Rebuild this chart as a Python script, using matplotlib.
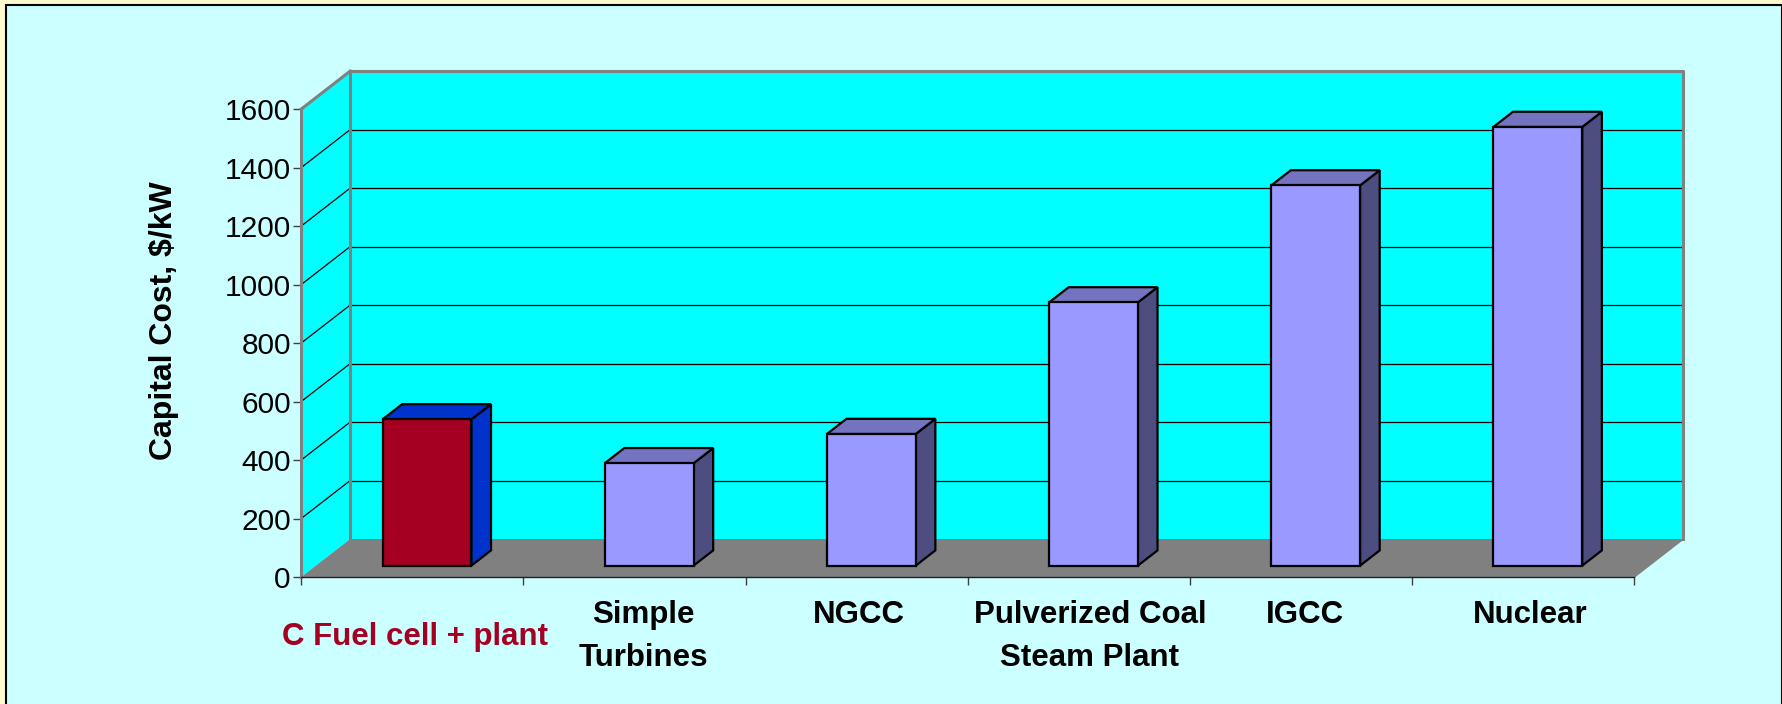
import matplotlib
matplotlib.use('Agg')
import matplotlib.pyplot as plt
from matplotlib.patches import Polygon, Rectangle
from matplotlib.lines import Line2D
import numpy as np

# ---------------- data ----------------
categories = ['C Fuel cell + plant', 'Simple\nTurbines', 'NGCC',
              'Pulverized Coal\nSteam Plant', 'IGCC', 'Nuclear']
capital_cost = [500, 350, 450, 900, 1300, 1500]
y_ticks = [0, 200, 400, 600, 800, 1000, 1200, 1400, 1600]
y_label = 'Capital Cost, $/kW'

# ---------------- style ----------------
front_colors = ['#A50021', '#9999FF', '#9999FF', '#9999FF', '#9999FF', '#9999FF']
side_colors = ['#0033CC', '#4D4D80', '#4D4D80', '#4D4D80', '#4D4D80', '#4D4D80']
top_colors = ['#0033CC', '#7373BF', '#7373BF', '#7373BF', '#7373BF', '#7373BF']
label_colors = ['#A50021', 'black', 'black', 'black', 'black', 'black']
label_dx = [0.01, 0.04, 0.01, 0.05, 0.02, 0.03]
label_y = [-155, -77, -77, -77, -77, -77]

plt.rcParams['font.family'] = ['Liberation Sans', 'DejaVu Sans']

W, H = 1783, 704
fig = plt.figure(figsize=(W / 100, H / 100), dpi=100)
fig.patch.set_facecolor('#FFFACD')

# inner slide background
fig.add_artist(Rectangle((6 / W, -0.02), (1782.5 - 6) / W, 1.02 - 5 / H,
                         transform=fig.transFigure, facecolor='#CCFFFF',
                         edgecolor='black', linewidth=1.5, zorder=0))

# front plane of the 3D box
ax_left, ax_right, ax_top, ax_bot = 301.2, 1634.2, 109.1, 577.0
ax = fig.add_axes([ax_left / W, (H - ax_bot) / H,
                   (ax_right - ax_left) / W, (ax_bot - ax_top) / H])
ymax = y_ticks[-1]
ncat = len(categories)
ax.set_xlim(0, ncat)
ax.set_ylim(0, ymax)
ax.patch.set_visible(False)

px_per_x = (ax_right - ax_left) / ncat
px_per_y = (ax_bot - ax_top) / ymax
DX = 49 / px_per_x       # depth offset in x data units
DY = 38 / px_per_y       # depth offset in y data units

cyan = '#00FFFF'
wallgray = '#808080'

# back wall
ax.add_patch(Rectangle((DX, DY), ncat, ymax, facecolor=cyan, edgecolor='none',
                       clip_on=False, zorder=1))
# left side wall
ax.add_patch(Polygon([(0, 0), (DX, DY), (DX, ymax + DY), (0, ymax)],
                     closed=True, facecolor=cyan, edgecolor='none',
                     clip_on=False, zorder=1))
# floor
ax.add_patch(Polygon([(0, 0), (ncat, 0), (ncat + DX, DY), (DX, DY)],
                     closed=True, facecolor=wallgray, edgecolor='none',
                     clip_on=False, zorder=1))

# gridlines
for t in y_ticks[1:-1]:
    ax.add_line(Line2D([DX, ncat + DX], [t + DY, t + DY], color='black',
                       lw=0.9, clip_on=False, zorder=2))
    ax.add_line(Line2D([0, DX], [t, t + DY], color='black', lw=0.9,
                       clip_on=False, zorder=2))

# wall edges
edge_kw = dict(color=wallgray, lw=2.2, clip_on=False, zorder=3,
               solid_capstyle='projecting')
ax.add_line(Line2D([DX, DX], [DY, ymax + DY], **edge_kw))
ax.add_line(Line2D([DX, ncat + DX, ncat + DX], [ymax + DY, ymax + DY, DY], **edge_kw))
ax.add_line(Line2D([0, DX], [ymax, ymax + DY], **edge_kw))
ax.add_line(Line2D([ncat, ncat + DX], [0, DY], color=wallgray, lw=1.2,
                   clip_on=False, zorder=3))

# bars
f0, bd, bw = 0.3, 0.4, 0.4
xs = np.arange(ncat) + 0.5 + f0 * DX
base = f0 * DY
ax.bar(xs, capital_cost, width=bw, bottom=base, color=front_colors,
       edgecolor='black', linewidth=1.6, zorder=6, clip_on=False)
for x, v, sc, tc in zip(xs, capital_cost, side_colors, top_colors):
    xl, xr = x - bw / 2, x + bw / 2
    ddx, ddy = bd * DX, bd * DY
    ax.add_patch(Polygon([(xr, base), (xr + ddx, base + ddy),
                          (xr + ddx, base + v + ddy), (xr, base + v)],
                         closed=True, facecolor=sc, edgecolor='black',
                         linewidth=1.6, joinstyle='miter', clip_on=False, zorder=5))
    ax.add_patch(Polygon([(xl, base + v), (xr, base + v),
                          (xr + ddx, base + v + ddy), (xl + ddx, base + v + ddy)],
                         closed=True, facecolor=tc, edgecolor='black',
                         linewidth=1.6, joinstyle='miter', clip_on=False, zorder=5))

# axes / ticks
for s in ['top', 'right']:
    ax.spines[s].set_visible(False)
ax.spines['left'].set_color(wallgray)
ax.spines['left'].set_linewidth(2.2)
ax.spines['bottom'].set_color('#202020')
ax.spines['bottom'].set_linewidth(1.0)
ax.spines['left'].set_zorder(3)
ax.spines['bottom'].set_zorder(3)

ax.set_yticks(y_ticks)
ax.set_yticklabels([str(t) for t in y_ticks])
ax.tick_params(axis='y', direction='out', length=5.5, width=1.0,
               color='#404040', labelsize=21.5, pad=2)
ax.set_xticks(range(ncat + 1))
ax.set_xticklabels([''] * (ncat + 1))
ax.tick_params(axis='x', direction='out', length=5.5, width=1.0, color='#404040')

for i, (lab, c, ddx, ly) in enumerate(zip(categories, label_colors, label_dx, label_y)):
    ax.text(i + 0.5 + ddx, ly, lab, ha='center', va='top', fontsize=22.5,
            fontweight='bold', color=c, linespacing=1.6, clip_on=False)

fig.text(164 / W, 1 - 321 / H, y_label, rotation=90, ha='center', va='center',
         fontsize=23, fontweight='bold')

fig.savefig('out.png', dpi=100, facecolor=fig.get_facecolor())
